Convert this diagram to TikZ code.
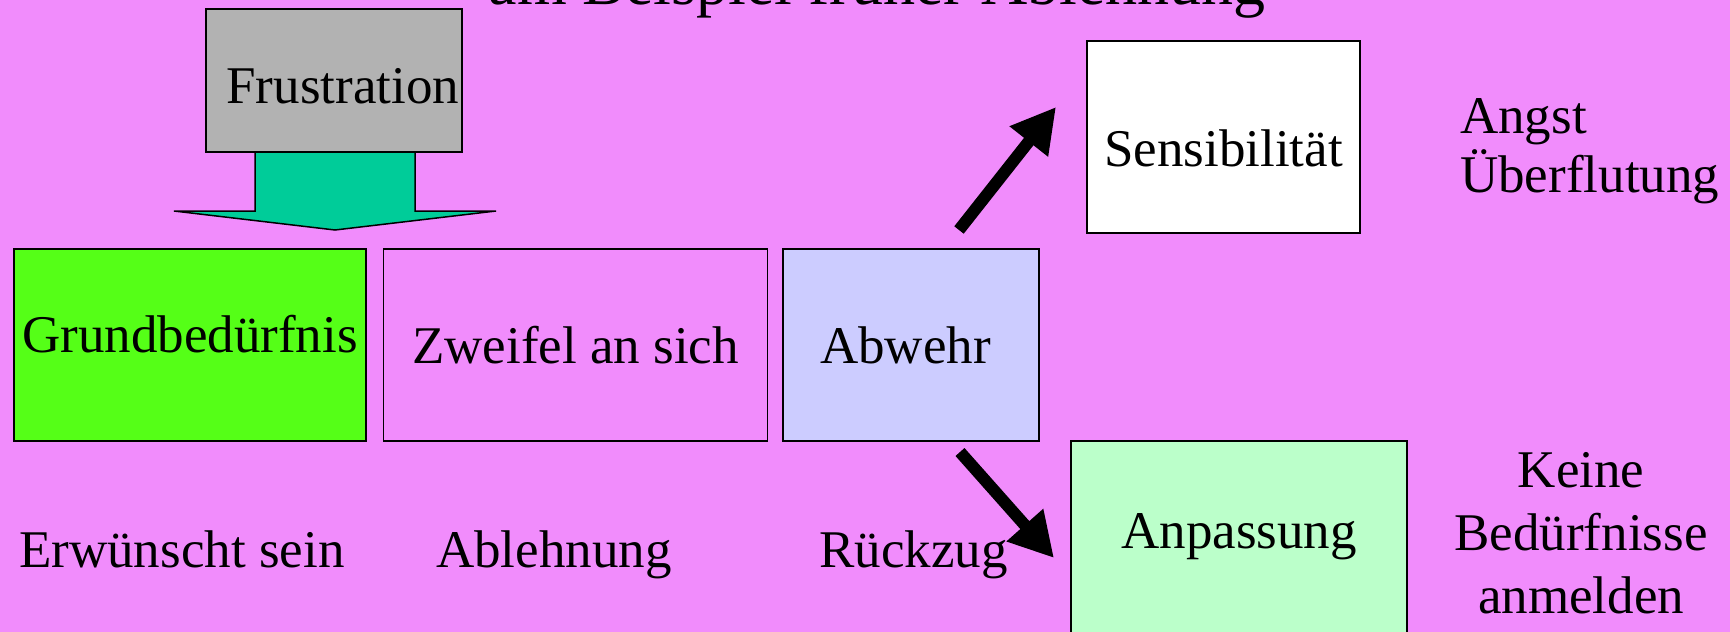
\documentclass[tikz,border=0pt]{standalone}
\usepackage{fontspec}
\setmainfont{Liberation Serif}
\usetikzlibrary{positioning}
\usetikzlibrary{arrows.meta}
\definecolor{bg-pink}{RGB}{241, 140, 252}
\definecolor{need-green}{RGB}{85, 255, 23}
\definecolor{frust-grey}{RGB}{178, 178, 178}
\definecolor{push-teal}{RGB}{0, 204, 153}
\definecolor{abwehr-blue}{RGB}{204, 204, 255}
\definecolor{anpass-green}{RGB}{187, 255, 202}

\begin{document}
\begin{tikzpicture}[x=1pt, y=-1pt,
    box/.style={draw=black, line width=1.5pt, inner sep=0pt, minimum height=192pt,
                font=\fontsize{53}{62}\selectfont},
    txt/.style={inner sep=0pt, font=\fontsize{53}{62}\selectfont},
    push/.style={line width=12pt, -{Triangle[length=44pt,width=46pt]}}]
\useasboundingbox (0,0) rectangle (1730,632);
\clip (0,0) rectangle (1730,632);
\fill[bg-pink] (0,0) rectangle (1730,632);

% heading, runs off the top edge
\node[txt, font=\fontsize{64}{72}\selectfont, anchor=base] (title) at (877,4) {am Beispiel früher Ablehnung};

% frustration pushing down on the row
\filldraw[fill=push-teal, draw=black, line width=1.5pt] (255,152) -- (415,152) -- (415,211) -- (496,211) -- (335,230) -- (174,211) -- (255,211) -- cycle;
\node[box, fill=frust-grey, minimum width=256pt, minimum height=143pt,
      text width=250pt, align=right, text height=47pt] (frust) at (334,80.5) {Frustration};

% the row
\node[box, fill=need-green, minimum width=352pt, text depth=22pt] (grund) at (190,345) {Grundbedürfnis};
\node[box, fill=bg-pink, minimum width=384pt, right=16pt of grund] (zweifel) {Zweifel an sich};
\node[box, fill=abwehr-blue, minimum width=256pt, text width=182pt, align=left,
      right=14pt of zweifel] (abwehr) {Abwehr};

% two ways out
\node[box, fill=white, minimum width=273pt, text height=60pt] (sens) at (1223.5,137) {Sensibilität};
\node[box, fill=anpass-green, minimum width=336pt] (anpass) at (1239,537) {Anpassung};

\coordinate (up-from) at (959,230);
\coordinate (up-to) at (1056,107);
\coordinate (down-from) at (960,452);
\coordinate (down-to) at (1054,558);
\draw[push] (up-from) -- (up-to);
\draw[push] (down-from) -- (down-to);

% side notes
\node[txt, anchor=north west, align=left, font=\fontsize{53}{59}\selectfont] (angst) at (1460,98) {Angst\\Überflutung};
\node[txt, anchor=north, align=center, font=\fontsize{53}{63}\selectfont] (keine) at (1581,452) {Keine\\Bedürfnisse\\anmelden};

\node[txt, anchor=base west] (erw) at (19,567) {Erwünscht sein};
\node[txt, anchor=base west] (abl) at (436,567) {Ablehnung};
\node[txt, anchor=base west] (rueck) at (819,567) {Rückzug};
\end{tikzpicture}
\end{document}
